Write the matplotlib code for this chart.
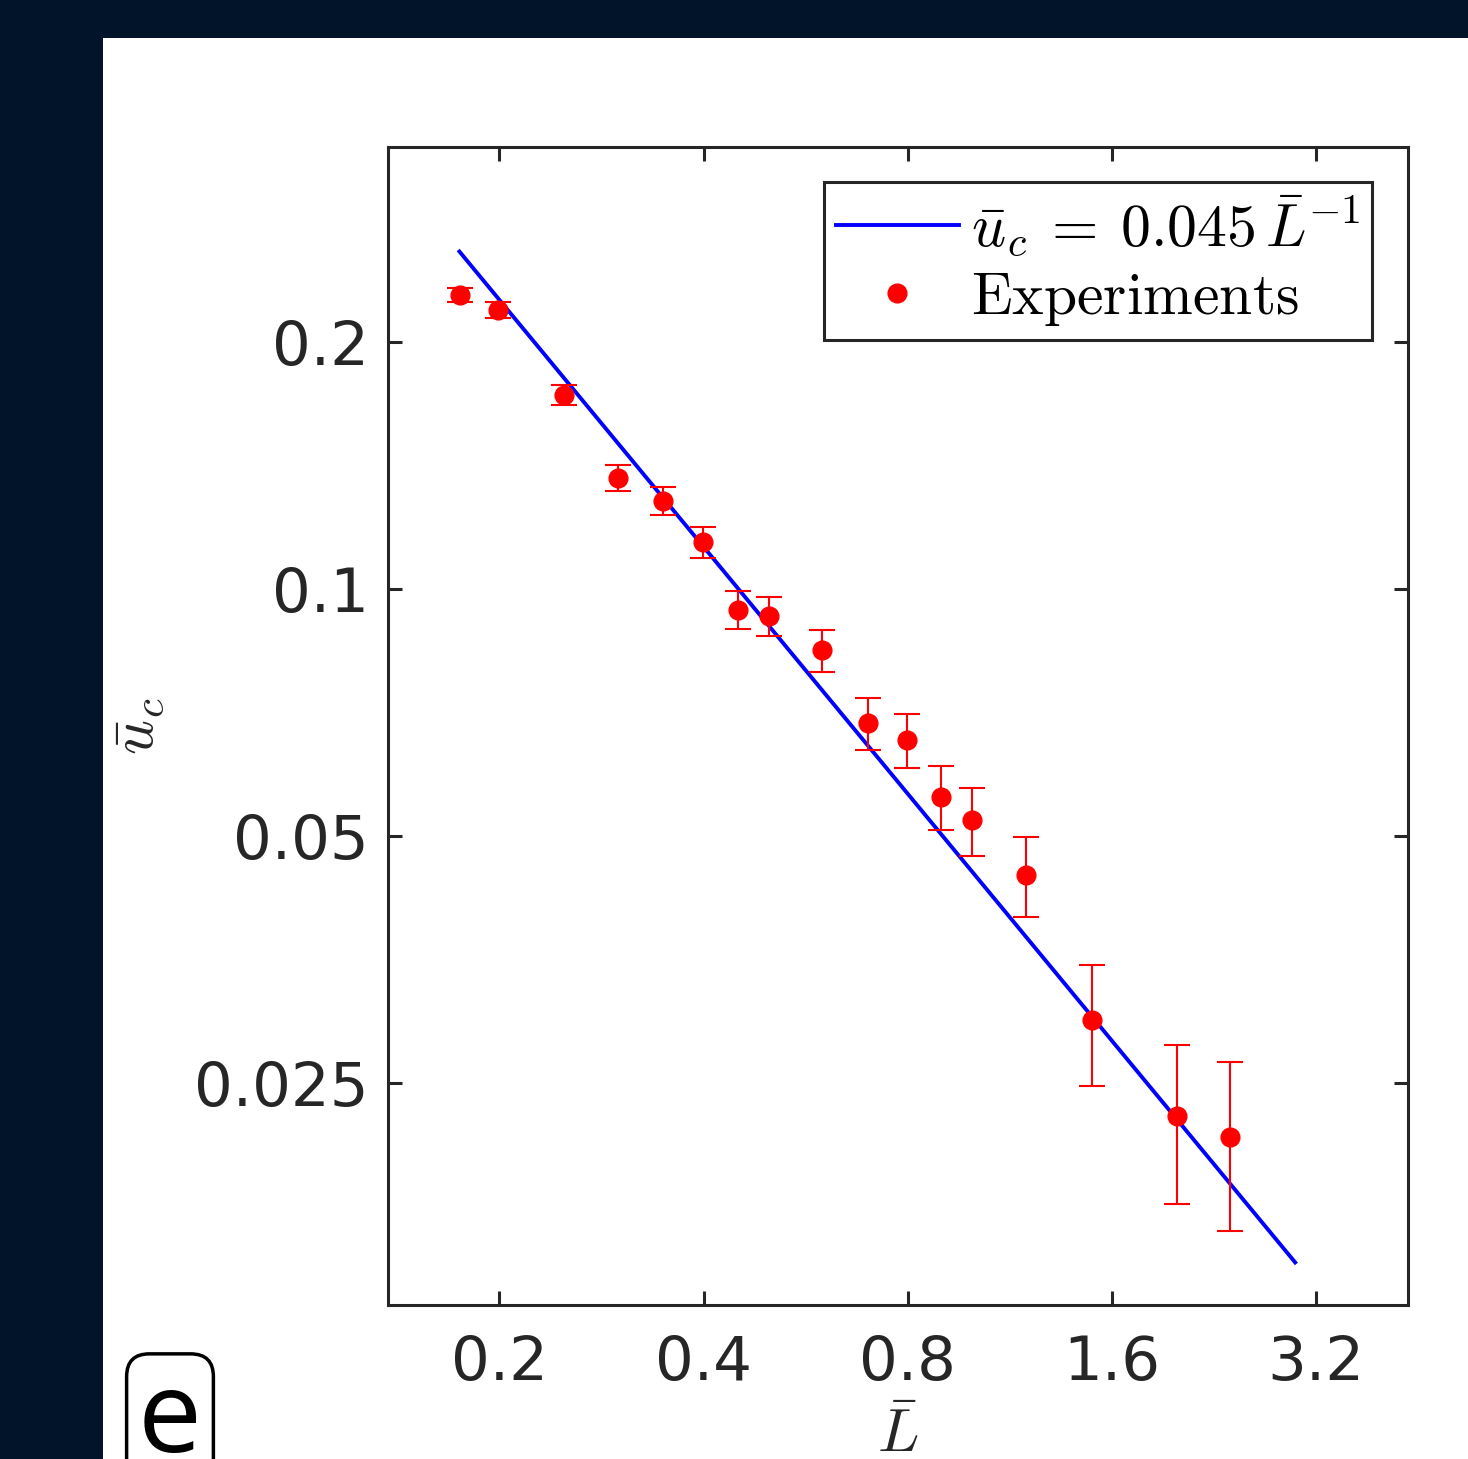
import numpy as np
import matplotlib
matplotlib.use('Agg')
import matplotlib.pyplot as plt
from matplotlib.patches import Rectangle
from matplotlib.ticker import FixedLocator, FixedFormatter, NullLocator

plt.rcParams['mathtext.fontset'] = 'cm'

L = [0.175, 0.199, 0.249, 0.299, 0.349, 0.399, 0.449, 0.499, 0.597,
     0.698, 0.798, 0.895, 0.994, 1.194, 1.495, 1.996, 2.39]
u = [0.228, 0.2188, 0.1724, 0.1365, 0.128, 0.114, 0.0943, 0.0927, 0.0842,
     0.0686, 0.0654, 0.0558, 0.0522, 0.0448, 0.0298, 0.0228, 0.0215]
err = [0.0045, 0.005, 0.005, 0.005, 0.005, 0.005, 0.005, 0.005, 0.005,
       0.005, 0.005, 0.005, 0.005, 0.005, 0.005, 0.005, 0.005]

# fit u = 0.045 / L
coef = 0.045
L_fit = np.linspace(0.1746, 2.98, 50)
u_fit = coef / L_fit

xticks = [0.2, 0.4, 0.8, 1.6, 3.2]
xticklabels = ['0.2', '0.4', '0.8', '1.6', '3.2']
yticks = [0.025, 0.05, 0.1, 0.2]
yticklabels = ['0.025', '0.05', '0.1', '0.2']

fig = plt.figure(figsize=(14.68, 14.59), dpi=100, facecolor='#011429')
fig.patches.append(Rectangle((103 / 1468, 0), 1 - 103 / 1468, 1 - 38 / 1459,
                             transform=fig.transFigure, facecolor='white',
                             edgecolor='none', zorder=-10))

ax = fig.add_axes([0.2643, 0.10555, 0.6948, 0.7937])
ax.set_xscale('log')
ax.set_yscale('log')

ax.plot(L_fit, u_fit, color='blue', lw=2.8,
        label=r'$\bar{u}_c\:=\:0.045\,\bar{L}^{-1}$', zorder=2)
ax.errorbar(L, u, yerr=err, fmt='none', ecolor='red', elinewidth=1.5,
            capsize=9.4, capthick=1.5, zorder=3)
ax.plot(L, u, 'o', color='red', ms=13.5, label=r'$\mathrm{Experiments}$', zorder=4)

ax.set_xlim(0.137, 4.37)
ax.set_ylim(0.0134, 0.3456)
ax.xaxis.set_major_locator(FixedLocator(xticks))
ax.xaxis.set_major_formatter(FixedFormatter(xticklabels))
ax.yaxis.set_major_locator(FixedLocator(yticks))
ax.yaxis.set_major_formatter(FixedFormatter(yticklabels))
ax.xaxis.set_minor_locator(NullLocator())
ax.yaxis.set_minor_locator(NullLocator())

ax.tick_params(which='major', direction='in', length=10, width=2.2,
               colors='#262626', labelsize=44, top=True, right=True, pad=14)
ax.tick_params(axis='x', pad=21)
for s in ax.spines.values():
    s.set_linewidth(2.2)
    s.set_color('#262626')

ax.set_xlabel(r'$\bar{L}$', fontsize=44, color='#262626', labelpad=9)
ax.set_ylabel(r'$\bar{u}_c$', fontsize=44, color='#262626', labelpad=20)

leg = ax.legend(loc='upper right', bbox_to_anchor=(0.9647, 0.9698), borderaxespad=0,
                fontsize=43, fancybox=False, framealpha=1, edgecolor='#262626',
                handlelength=2.05, handletextpad=0.2, borderpad=0.2, labelspacing=0.15)
leg.get_frame().set_linewidth(2.2)

fig.text(170 / 1468, 1 - 1422 / 1459, 'e', fontsize=82, family='Open Sans',
         ha='center', va='center',
         bbox=dict(boxstyle='round,pad=0.1,rounding_size=0.2', facecolor='white',
                   edgecolor='black', linewidth=2.5))

fig.savefig('out.png', dpi=100, facecolor=fig.get_facecolor())
